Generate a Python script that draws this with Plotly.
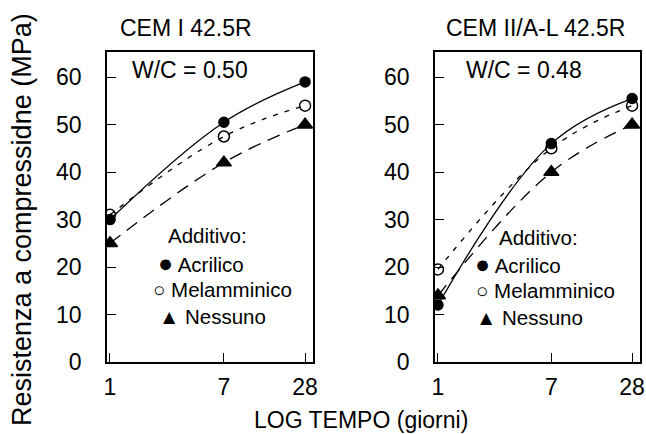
import plotly.graph_objects as go

# Curing age (days) and compressive strength (MPa) per additive
giorni = [1, 7, 28]

cem1_acrilico = [30.0, 50.5, 59.0]
cem1_melamminico = [31.0, 47.5, 54.0]
cem1_nessuno = [25.0, 42.0, 50.0]

cem2_acrilico = [12.0, 46.0, 55.5]
cem2_melamminico = [19.5, 45.0, 54.0]
cem2_nessuno = [14.0, 40.0, 50.0]

serie_nomi = ["Acrilico", "Melamminico", "Nessuno"]
legenda_simboli = ["<span style='font-size:25px'>\u25cf</span>", "\u25cb", "\u25b2"]
tick_y = [0, 10, 20, 30, 40, 50, 60]
tick_x = [1, 7, 28]
tick_x_text = ["1", "7", "28"]

FONT = "Liberation Sans, Arial, sans-serif"
W, H = 646, 434

stili = {
    "Acrilico": dict(dash="solid", symbol="circle", size=10),
    "Melamminico": dict(dash="5px,7px", symbol="circle-open", size=11),
    "Nessuno": dict(dash="13px,8px", symbol="triangle-up", size=13),
}

fig = go.Figure()

pannelli = [
    ("x", "y", [cem1_acrilico, cem1_melamminico, cem1_nessuno]),
    ("x2", "y2", [cem2_acrilico, cem2_melamminico, cem2_nessuno]),
]

for xa, ya, serie in pannelli:
    for nome, valori in zip(serie_nomi, serie):
        s = stili[nome]
        fig.add_trace(go.Scatter(
            x=giorni, y=valori, mode="lines", xaxis=xa, yaxis=ya,
            line=dict(color="black", width=1.3, dash=s["dash"], shape="spline", smoothing=1.1),
            showlegend=False, hoverinfo="skip",
        ))
    for nome, valori in zip(serie_nomi, serie):
        s = stili[nome]
        fig.add_trace(go.Scatter(
            x=giorni, y=valori, mode="markers", xaxis=xa, yaxis=ya, name=nome,
            showlegend=False,
            marker=dict(symbol=s["symbol"], size=s["size"], color="black",
                        line=dict(color="black", width=1.5)),
        ))

x_range = [-0.022, 1.506]
y_range = [0, 65.3]
y_dom = [1 - 362 / H, 1 - 52 / H]

asse_x = dict(type="log", range=x_range, tickvals=tick_x, ticktext=tick_x_text,
              ticks="inside", ticklen=9, tickwidth=1.3, tickcolor="black",
              showline=True, linecolor="black", linewidth=1.5, mirror=True,
              showgrid=False, zeroline=False, ticklabelstandoff=4, automargin=False,
              ticklabeloverflow="allow",
              tickfont=dict(family=FONT, size=23, color="black"))
asse_y = dict(range=y_range, tickvals=tick_y, ticks="inside", ticklen=9, tickwidth=1.3,
              tickcolor="black", showline=True, linecolor="black", linewidth=1.5,
              mirror=True, showgrid=False, zeroline=False, ticklabelstandoff=19,
              automargin=False, ticklabeloverflow="allow",
              tickfont=dict(family=FONT, size=23, color="black"), domain=y_dom)

fig.update_layout(
    width=W, height=H,
    margin=dict(l=0, r=0, t=0, b=0, autoexpand=False),
    paper_bgcolor="white", plot_bgcolor="white",
    showlegend=False,
    xaxis=dict(asse_x, domain=[107 / W, 313 / W], anchor="y"),
    yaxis=dict(asse_y, anchor="x"),
    xaxis2=dict(asse_x, domain=[435 / W, 640 / W], anchor="y2"),
    yaxis2=dict(asse_y, anchor="x2"),
)


def testo(t, px, py, fs, al="center", angle=0):
    fig.add_annotation(text=t, x=px / W, y=1 - py / H, xref="paper", yref="paper",
                       xanchor=al, yanchor="middle", showarrow=False, textangle=angle,
                       font=dict(family=FONT, size=fs, color="black"))


# Panel headings and water/cement ratio
testo("CEM I 42.5R", 186, 28, 23)
testo("CEM II/A-L 42.5R", 535, 28, 23)
testo("W/C = 0.50", 190, 70, 23)
testo("W/C = 0.48", 524, 70, 23)

# Key: additive types
chiavi = [
    (166, 235, [(156, 263), (151, 289.5), (157, 316)]),
    (497, 238, [(473, 264), (474, 290.5), (474, 317)]),
]
for tx, ty, righe in chiavi:
    testo("Additivo:", tx, ty, 20.5, "left")
    for simbolo, nome, (px, py) in zip(legenda_simboli, serie_nomi, righe):
        testo(simbolo + " " + nome, px, py, 20.5, "left")

# Axis titles
testo("LOG TEMPO (giorni)", 361, 420, 23)
testo("Resistenza a compressidne (MPa)", 22, 220, 27, angle=-90)

fig.write_html("out.html")
